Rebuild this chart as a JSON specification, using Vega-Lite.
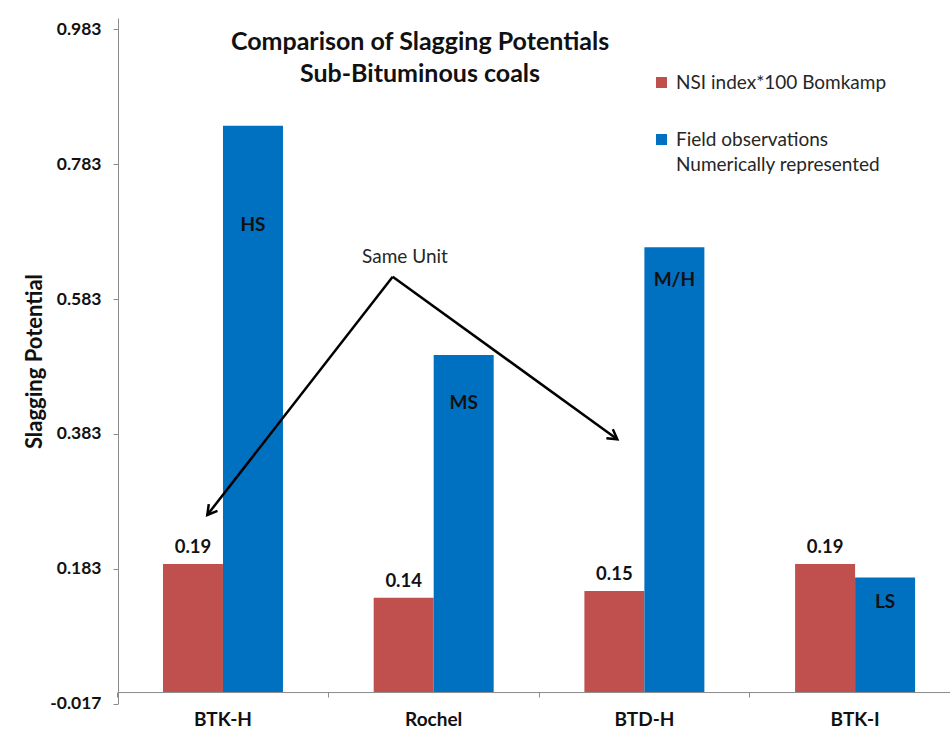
{
  "$schema": "https://vega.github.io/schema/vega-lite/v6.json",
  "autosize": {"type": "none"},
  "width": 832,
  "height": 685.5,
  "padding": {"left": 118, "top": 18, "right": 0, "bottom": 28.5},
  "background": "white",
  "config": {
    "font": "Lato",
    "view": {"stroke": null},
    "axis": {"domainColor": "#8c8c8c", "tickColor": "#8c8c8c", "labelColor": "#111111", "titleColor": "#111111", "grid": false},
    "legend": {"padding": 0},
    "style": {"guide-label": {"lineHeight": 25}}
  },
  "title": {
    "text": ["Comparison of Slagging Potentials", "Sub-Bituminous coals"],
    "font": "Lato",
    "fontSize": 25,
    "fontWeight": "bold",
    "color": "#111111",
    "anchor": "middle",
    "lineHeight": 32,
    "dx": -114,
    "dy": 73
  },
  "datasets": {
    "potentials": [
      {"coal": "BTK-H", "series": "NSI index*100 Bomkamp", "value": 0.19},
      {"coal": "BTK-H", "series": "Field observations Numerically represented", "value": 0.84},
      {"coal": "Rochel", "series": "NSI index*100 Bomkamp", "value": 0.14},
      {"coal": "Rochel", "series": "Field observations Numerically represented", "value": 0.5},
      {"coal": "BTD-H", "series": "NSI index*100 Bomkamp", "value": 0.15},
      {"coal": "BTD-H", "series": "Field observations Numerically represented", "value": 0.66},
      {"coal": "BTK-I", "series": "NSI index*100 Bomkamp", "value": 0.19},
      {"coal": "BTK-I", "series": "Field observations Numerically represented", "value": 0.17}
    ],
    "ratings": [
      {"coal": "BTK-H", "series": "Field observations Numerically represented", "at": 0.693, "rating": "HS"},
      {"coal": "Rochel", "series": "Field observations Numerically represented", "at": 0.429, "rating": "MS"},
      {"coal": "BTD-H", "series": "Field observations Numerically represented", "at": 0.611, "rating": "M/H"},
      {"coal": "BTK-I", "series": "Field observations Numerically represented", "at": 0.134, "rating": "LS"}
    ],
    "callout": [
      {"target": "BTK-H", "u": 0.8054, "v": 0.6162, "u2": -0.0745, "v2": 0.2627},
      {"target": "BTD-H", "u": 0.8054, "v": 0.6162, "u2": 1.8714, "v2": 0.375}
    ],
    "callout_text": [
      {"u": 0.8638, "v": 0.6454, "note": "Same Unit"}
    ]
  },
  "layer": [
    {
      "data": {"name": "potentials"},
      "encoding": {
        "x": {
          "field": "coal",
          "type": "nominal",
          "sort": null,
          "scale": {"paddingInner": 0.4305, "paddingOuter": 0.1896, "align": 0.563},
          "axis": {
            "title": null,
            "orient": "bottom",
            "offset": -11.46,
            "labelAngle": 0,
            "labelFontSize": 19,
            "labelFontWeight": "bold",
            "tickSize": 5,
            "labelPadding": 13,
            "bandPosition": -0.378
          }
        },
        "xOffset": {
          "field": "series",
          "type": "nominal",
          "sort": ["NSI index*100 Bomkamp", "Field observations Numerically represented"],
          "scale": {"paddingInner": 0, "paddingOuter": 0}
        },
        "y": {
          "field": "value",
          "type": "quantitative",
          "scale": {"domain": [-0.017, 1.0], "nice": false, "zero": false},
          "axis": {
            "title": "Slagging Potential",
            "titleFontSize": 22,
            "titleFontWeight": "bold",
            "titleX": -72,
            "titleY": 343,
            "values": [-0.017, 0.183, 0.383, 0.583, 0.783, 0.983],
            "labelExpr": "(datum.value < 0 ? '-' : '') + format(abs(datum.value), '.3f')",
            "labelFontSize": 17.5,
            "labelFontWeight": "bold",
            "tickSize": 5,
            "labelPadding": 12
          }
        }
      },
      "layer": [
        {
          "mark": {"type": "bar"},
          "encoding": {
            "color": {
              "field": "series",
              "type": "nominal",
              "scale": {
                "domain": ["NSI index*100 Bomkamp", "Field observations Numerically represented"],
                "range": ["#C0504D", "#0070C0"]
              },
              "legend": {
                "title": null,
                "orient": "none",
                "legendX": 534,
                "legendY": 55,
                "symbolType": "square",
                "symbolSize": 121,
                "symbolStrokeWidth": 0,
                "labelFontSize": 19,
                "labelColor": "#262626",
                "labelOffset": 5,
                "labelLimit": 400,
                "rowPadding": 37,
                "labelExpr": "datum.label == 'Field observations Numerically represented' ? ['Field observations', 'Numerically represented'] : datum.label"
              }
            }
          }
        },
        {
          "transform": [{"filter": "datum.series == 'NSI index*100 Bomkamp'"}],
          "mark": {"type": "text", "baseline": "bottom", "dy": -7, "fontSize": 18.5, "fontWeight": "bold", "color": "#111111"},
          "encoding": {
            "text": {"field": "value", "type": "quantitative", "format": ".2f"}
          }
        },
        {
          "data": {"name": "ratings"},
          "mark": {"type": "text", "baseline": "middle", "fontSize": 19, "fontWeight": "bold", "color": "#111111"},
          "encoding": {
            "y": {"field": "at", "type": "quantitative", "scale": {"domain": [-0.017, 1.0], "nice": false, "zero": false}},
            "text": {"field": "rating", "type": "nominal"}
          }
        }
      ]
    },
    {
      "encoding": {
        "x": {"type": "quantitative", "scale": {"domain": [-0.4983, 3.4504], "nice": false, "zero": false}, "axis": null},
        "y": {"type": "quantitative", "scale": {"domain": [-0.017, 1.0], "nice": false, "zero": false}}
      },
      "layer": [
        {
          "data": {"name": "callout"},
          "mark": {"type": "rule", "color": "#000000", "strokeWidth": 2.5},
          "encoding": {
            "x": {"field": "u", "type": "quantitative"},
            "y": {"field": "v", "type": "quantitative"},
            "x2": {"field": "u2"},
            "y2": {"field": "v2"}
          }
        },
        {
          "data": {"name": "callout"},
          "transform": [{"filter": "datum.target == 'BTK-H'"}],
          "mark": {"type": "point", "shape": "M-0.55,0.95L0,0L0.55,0.95", "filled": false, "size": 400, "angle": 217.9, "color": "#000000", "strokeWidth": 2.5, "opacity": 1},
          "encoding": {
            "x": {"field": "u2", "type": "quantitative"},
            "y": {"field": "v2", "type": "quantitative"}
          }
        },
        {
          "data": {"name": "callout"},
          "transform": [{"filter": "datum.target == 'BTD-H'"}],
          "mark": {"type": "point", "shape": "M-0.55,0.95L0,0L0.55,0.95", "filled": false, "size": 400, "angle": 125.9, "color": "#000000", "strokeWidth": 2.5, "opacity": 1},
          "encoding": {
            "x": {"field": "u2", "type": "quantitative"},
            "y": {"field": "v2", "type": "quantitative"}
          }
        },
        {
          "data": {"name": "callout_text"},
          "mark": {"type": "text", "fontSize": 19, "color": "#262626", "baseline": "middle"},
          "encoding": {
            "x": {"field": "u", "type": "quantitative"},
            "y": {"field": "v", "type": "quantitative"},
            "text": {"field": "note", "type": "nominal"}
          }
        }
      ]
    }
  ],
  "resolve": {"scale": {"x": "independent"}}
}
